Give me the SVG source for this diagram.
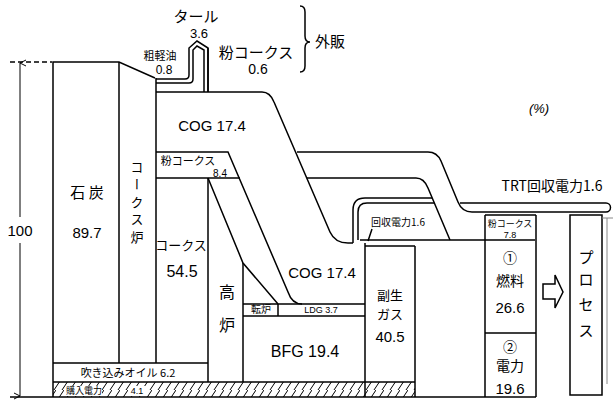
<svg xmlns="http://www.w3.org/2000/svg" width="615" height="403" viewBox="0 0 615 403">
<defs>
<style>
.l{fill:none;stroke:#000;stroke-width:1.5}
.t{font-family:'Liberation Sans','Noto Sans CJK JP',sans-serif;fill:#000;text-anchor:middle}
.j{font-family:'Noto Sans CJK JP','Liberation Sans',sans-serif;fill:#000;text-anchor:middle}
.v{writing-mode:vertical-rl}
</style>
<pattern id="h" patternUnits="userSpaceOnUse" width="8" height="15">
<path d="M-2,15 L8,0 M6,15 L16,0" stroke="#000" stroke-width="1"/>
</pattern>
<marker id="a" markerWidth="8" markerHeight="8" refX="4" refY="1" orient="auto-start-reverse" markerUnits="userSpaceOnUse"><path d="M1,7 L4,1 L7,7" fill="none" stroke="#000" stroke-width="1"/></marker>
</defs>
<rect width="615" height="403" fill="#fff"/>

<g id="scale">
<path class="l" d="M10,62 H52" stroke-dasharray="5,3"/>
<path d="M20,217 V63" fill="none" stroke="#000" stroke-width="1" marker-end="url(#a)"/>
<path d="M20,243 V396" fill="none" stroke="#000" stroke-width="1" marker-end="url(#a)"/>
<text class="t" x="20" y="236" font-size="15">100</text>
</g>

<g id="coal">
<path class="l" d="M53,363 V62 H119 L155,78"/>
<path class="l" d="M119,62 V363"/>
<text class="j" x="87" y="198" font-size="15">石 炭</text>
<text class="t" x="87" y="238" font-size="15">89.7</text>
</g>

<g id="cokeoven">
<path class="l" d="M156,78 V363"/>
<text class="j v" x="137" y="204" font-size="13" letter-spacing="4.5">コークス炉</text>
</g>

<g id="byproducts">
<path class="l" d="M156,79 H185 Q189,79 189,75 V48 L197,41 L208,48 V92"/>
<path class="l" d="M208,48 V92" stroke-width="3"/>
<path class="l" d="M156,83 H189 Q193,83 193,79 V50 L197,46 L204,50 V92"/>
<text class="j" x="196" y="22" font-size="15">タール</text>
<text class="t" x="199" y="38" font-size="13">3.6</text>
<text class="j" x="160" y="60" font-size="11">粗軽油</text>
<text class="t" x="164" y="74" font-size="12">0.8</text>
<text class="j" x="256" y="58" font-size="15">粉コークス</text>
<text class="t" x="258" y="74" font-size="14">0.6</text>
<path class="l" d="M300,6 Q305,6 305,12 V36 Q305,42 310,42 Q305,42 305,48 V66 Q305,72 300,72" stroke-width="1"/>
<text class="j" x="330" y="47" font-size="15">外販</text>
<text class="t" x="539" y="113" font-size="13" font-style="italic">(%)</text>
</g>

<g id="cog">
<path class="l" d="M156,92 H262 Q270,92 274,102 L330,232 Q335,243 348,243 H353"/>
<text class="t" x="212" y="131" font-size="15">COG 17.4</text>
<text class="t" x="322" y="278" font-size="15">COG 17.4</text>
</g>

<g id="finecoke">
<path class="l" d="M156,152 H228 L288,292 Q292,304 302,304"/>
<path class="l" d="M156,178 H240"/>
<text class="j" x="188" y="165" font-size="11">粉コークス</text>
<text class="t" x="220" y="177" font-size="10">8.4</text>
<path class="l" d="M297,152 H428 Q437,152 441,161 L458,202 Q462,212 472,212 H606 A4.5,4.5 0 0 0 606,203 H460"/>
<path class="l" d="M307,178 H416 Q424,178 428,188 L450,240"/>
</g>

<g id="coke">
<path class="l" d="M208,178 V382"/>
<text class="j" x="181" y="250" font-size="13">コークス</text>
<text class="t" x="182" y="277" font-size="16">54.5</text>
</g>

<g id="bf">
<path class="l" d="M208,178 L243,263 L278,304"/>
<path class="l" d="M243,263 V382"/>
<text class="j" x="227" y="298" font-size="16">高</text>
<text class="j" x="227" y="331" font-size="16">炉</text>
</g>

<g id="converter">
<path class="l" d="M243,304 H365 M243,316 H365 M278,304 V316"/>
<text class="j" x="261" y="313" font-size="10">転炉</text>
<text class="t" x="321" y="313" font-size="9">LDG 3.7</text>
</g>

<g id="bfg">
<text class="t" x="305" y="357" font-size="16">BFG 19.4</text>
</g>

<g id="recovered">
<path class="l" d="M353,243 V210 Q353,198 365,198 H432"/>
<path class="l" d="M358,240 V212 Q358,203 367,203 H434"/>
<path class="l" d="M372,229 L368,241" stroke-width="1"/>
<text class="j" x="398" y="226" font-size="10">回収電力1.6</text>
</g>

<g id="gas">
<path class="l" d="M360,240 H535 M365,246 H415"/>
<path class="l" d="M365,243 V397 M415,246 V397 M485,215 V397 M536,215 V397"/>
<text class="j" x="390" y="300" font-size="13">副生</text>
<text class="j" x="390" y="319" font-size="13">ガス</text>
<text class="t" x="390" y="342" font-size="15">40.5</text>
</g>

<g id="fuel">
<path class="l" d="M485,215 H536 M485,333 H536"/>
<text class="j" x="510" y="227" font-size="9">粉コークス</text>
<text class="t" x="510" y="238" font-size="9">7.8</text>
<text class="j" x="510" y="263" font-size="14">①</text>
<text class="j" x="510" y="286" font-size="14">燃料</text>
<text class="t" x="510" y="313" font-size="15">26.6</text>
<text class="j" x="510" y="352" font-size="14">②</text>
<text class="j" x="510" y="371" font-size="14">電力</text>
<text class="t" x="510" y="394" font-size="15">19.6</text>
</g>

<g id="trt">
<text class="j" x="552" y="191" font-size="14">TRT回収電力1.6</text>
</g>

<g id="arrow">
<path class="l" d="M543,284 H555 V275 L563,292 L555,308 V299 H543 Z"/>
</g>

<g id="process">
<rect class="l" x="570" y="215" width="32" height="180"/>
<path d="M602,218 H613 M607,218 V384" fill="none" stroke="#888" stroke-width="1"/>
<text class="j" x="586" font-size="15"><tspan x="586" y="263">プ</tspan><tspan x="586" y="285">ロ</tspan><tspan x="586" y="310">セ</tspan><tspan x="586" y="336">ス</tspan></text>
</g>

<g id="bottom">
<rect x="53" y="382" width="362" height="15" fill="url(#h)"/>
<path class="l" d="M53,363 H208 M53,382 H415 M10,397 H536"/>
<path class="l" d="M53,363 V397"/>
<rect x="66" y="386" width="36" height="10" fill="#fff"/>
<rect x="129" y="386" width="16" height="10" fill="#fff"/>
<text class="j" x="84" y="394" font-size="9">購入電力</text>
<text class="t" x="137" y="394" font-size="9">4.1</text>
<text class="j" x="128" y="377" font-size="11">吹き込みオイル 6.2</text>
</g>
</svg>
